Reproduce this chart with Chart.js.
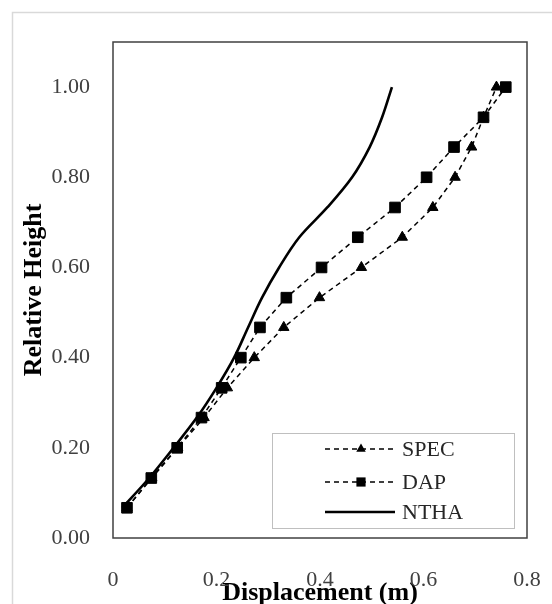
<!DOCTYPE html>
<html>
  <head>
    <meta charset="utf-8" />
    <script src="https://cdn.jsdelivr.net/npm/chart.js"></script>
    <style>
      body { margin: 0; background: #fff; }
      canvas { display: block; }
    </style>
  </head>
  <body>
    <canvas id="profileChart" width="552" height="604"></canvas>
    <script>
      // relative height of each storey (15 storeys)
      const heights = [0.067, 0.133, 0.2, 0.267, 0.333, 0.4, 0.467, 0.533, 0.6, 0.667, 0.733, 0.8, 0.867, 0.933, 1.0];
      // displacement (m)
      const specDisp = [0.027, 0.075, 0.125, 0.176, 0.221, 0.273, 0.330, 0.399, 0.480, 0.559, 0.618, 0.661, 0.693, 0.716, 0.741];
      const dapDisp = [0.027, 0.074, 0.124, 0.171, 0.210, 0.247, 0.284, 0.335, 0.403, 0.473, 0.545, 0.606, 0.659, 0.716, 0.759];
      const nthaDisp = [0.018, 0.070, 0.117, 0.162, 0.200, 0.234, 0.261, 0.288, 0.321, 0.360, 0.414, 0.462, 0.496, 0.520, 0.539];

      const xTicks = [0, 0.2, 0.4, 0.6, 0.8];
      const xTickLabels = ["0", "0.2", "0.4", "0.6", "0.8"];
      const yTicks = [0, 0.2, 0.4, 0.6, 0.8, 1.0];
      const yTickLabels = ["0.00", "0.20", "0.40", "0.60", "0.80", "1.00"];

      const serif = "'Liberation Serif', 'Times New Roman', serif";
      const toPoints = (xs) => xs.map((x, i) => ({ x, y: heights[i] }));

      // draws the marker used in the legend box
      const drawMarker = (ctx, style, x, y, r) => {
        ctx.beginPath();
        if (style === "triangle") {
          ctx.moveTo(x, y - r);
          ctx.lineTo(x + r * 0.866, y + r * 0.5);
          ctx.lineTo(x - r * 0.866, y + r * 0.5);
          ctx.closePath();
        } else if (style === "rect") {
          const s = r * Math.SQRT1_2;
          ctx.rect(x - s, y - s, 2 * s, 2 * s);
        }
        ctx.fill();
      };

      const framePlugin = {
        id: "frame",
        beforeDraw(chart) {
          const ctx = chart.ctx;
          ctx.save();
          ctx.fillStyle = "#fff";
          ctx.fillRect(0, 0, chart.width, chart.height);
          ctx.strokeStyle = "#d9d9d9";
          ctx.lineWidth = 1.5;
          ctx.strokeRect(12.5, 12.5, chart.width, chart.height);
          ctx.restore();
        },
        afterDraw(chart) {
          const { ctx, chartArea: a } = chart;
          ctx.save();
          ctx.strokeStyle = "#404040";
          ctx.lineWidth = 1.5;
          ctx.strokeRect(a.left, a.top, a.right - a.left, a.bottom - a.top);

          // legend box in the lower right corner of the plot
          const boxW = 242, boxH = 95;
          const bx = a.right - 13 - boxW;
          const by = a.bottom - 10 - boxH;
          ctx.fillStyle = "#fff";
          ctx.fillRect(bx, by, boxW, boxH);
          ctx.strokeStyle = "#bfbfbf";
          ctx.lineWidth = 1;
          ctx.strokeRect(bx + 0.5, by + 0.5, boxW, boxH);

          const rows = [16, 49, 79];
          chart.data.datasets.forEach((ds, i) => {
            const y = by + rows[i];
            ctx.strokeStyle = "#000";
            ctx.lineWidth = ds.borderWidth;
            ctx.setLineDash(ds.borderDash || []);
            ctx.beginPath();
            ctx.moveTo(bx + 53, y);
            ctx.lineTo(bx + 123, y);
            ctx.stroke();
            ctx.setLineDash([]);
            if (ds.pointRadius > 0) {
              ctx.fillStyle = "#000";
              drawMarker(ctx, ds.pointStyle, bx + 89, y, ds.pointStyle === "rect" ? 6.5 : 5.5);
            }
            ctx.fillStyle = "#262626";
            ctx.font = "22px " + serif;
            ctx.textBaseline = "middle";
            ctx.textAlign = "left";
            ctx.fillText(ds.label, bx + 130, y + 1);
          });
          ctx.restore();
        },
      };

      new Chart(document.getElementById("profileChart"), {
        type: "scatter",
        data: {
          datasets: [
            {
              label: "SPEC",
              data: toPoints(specDisp),
              showLine: true,
              borderColor: "#000",
              borderWidth: 1.5,
              borderDash: [5, 4],
              pointStyle: "triangle",
              pointRadius: 6,
              pointBackgroundColor: "#000",
              pointBorderColor: "#000",
              pointBorderWidth: 1,
              order: 2,
            },
            {
              label: "DAP",
              data: toPoints(dapDisp),
              showLine: true,
              borderColor: "#000",
              borderWidth: 1.5,
              borderDash: [5, 4],
              pointStyle: "rect",
              pointRadius: 7.5,
              pointBackgroundColor: "#000",
              pointBorderColor: "#000",
              pointBorderWidth: 1,
              order: 1,
            },
            {
              label: "NTHA",
              data: toPoints(nthaDisp),
              showLine: true,
              borderColor: "#000",
              borderWidth: 2.6,
              tension: 0.35,
              pointRadius: 0,
              order: 0,
            },
          ],
        },
        options: {
          responsive: false,
          animation: false,
          layout: { padding: { left: 0, right: 25, top: 42, bottom: 0 } },
          plugins: {
            legend: { display: false },
            tooltip: { enabled: false },
          },
          scales: {
            x: {
              type: "linear",
              min: 0,
              max: 0.8,
              grid: { display: false, drawTicks: false },
              border: { display: false },
              afterBuildTicks: (scale) => {
                scale.ticks = xTicks.map((v) => ({ value: v }));
              },
              afterFit: (scale) => {
                scale.height = 66;
                scale.paddingLeft = 0;
                scale.paddingRight = 0;
              },
              ticks: {
                padding: 29,
                color: "#404040",
                font: { family: serif, size: 22 },
                callback: (v) => xTickLabels[xTicks.indexOf(v)],
              },
              title: {
                display: true,
                text: "Displacement (m)",
                color: "#000",
                font: { family: serif, size: 26, weight: "bold", lineHeight: 1 },
                padding: { top: 0, bottom: -2 },
              },
            },
            y: {
              type: "linear",
              min: 0,
              max: 1.1,
              grid: { display: false, drawTicks: false },
              border: { display: false },
              afterBuildTicks: (scale) => {
                scale.ticks = yTicks.map((v) => ({ value: v }));
              },
              afterFit: (scale) => {
                scale.width = 113;
                scale.paddingTop = 0;
                scale.paddingBottom = 0;
              },
              ticks: {
                padding: 23,
                color: "#404040",
                font: { family: serif, size: 22 },
                callback: (v) => yTickLabels[yTicks.indexOf(v)],
              },
              title: {
                display: true,
                text: "Relative Height",
                color: "#000",
                font: { family: serif, size: 26, weight: "bold", lineHeight: 1 },
                padding: { top: 21, bottom: 0 },
              },
            },
          },
        },
        plugins: [framePlugin],
      });
    </script>
  </body>
</html>
